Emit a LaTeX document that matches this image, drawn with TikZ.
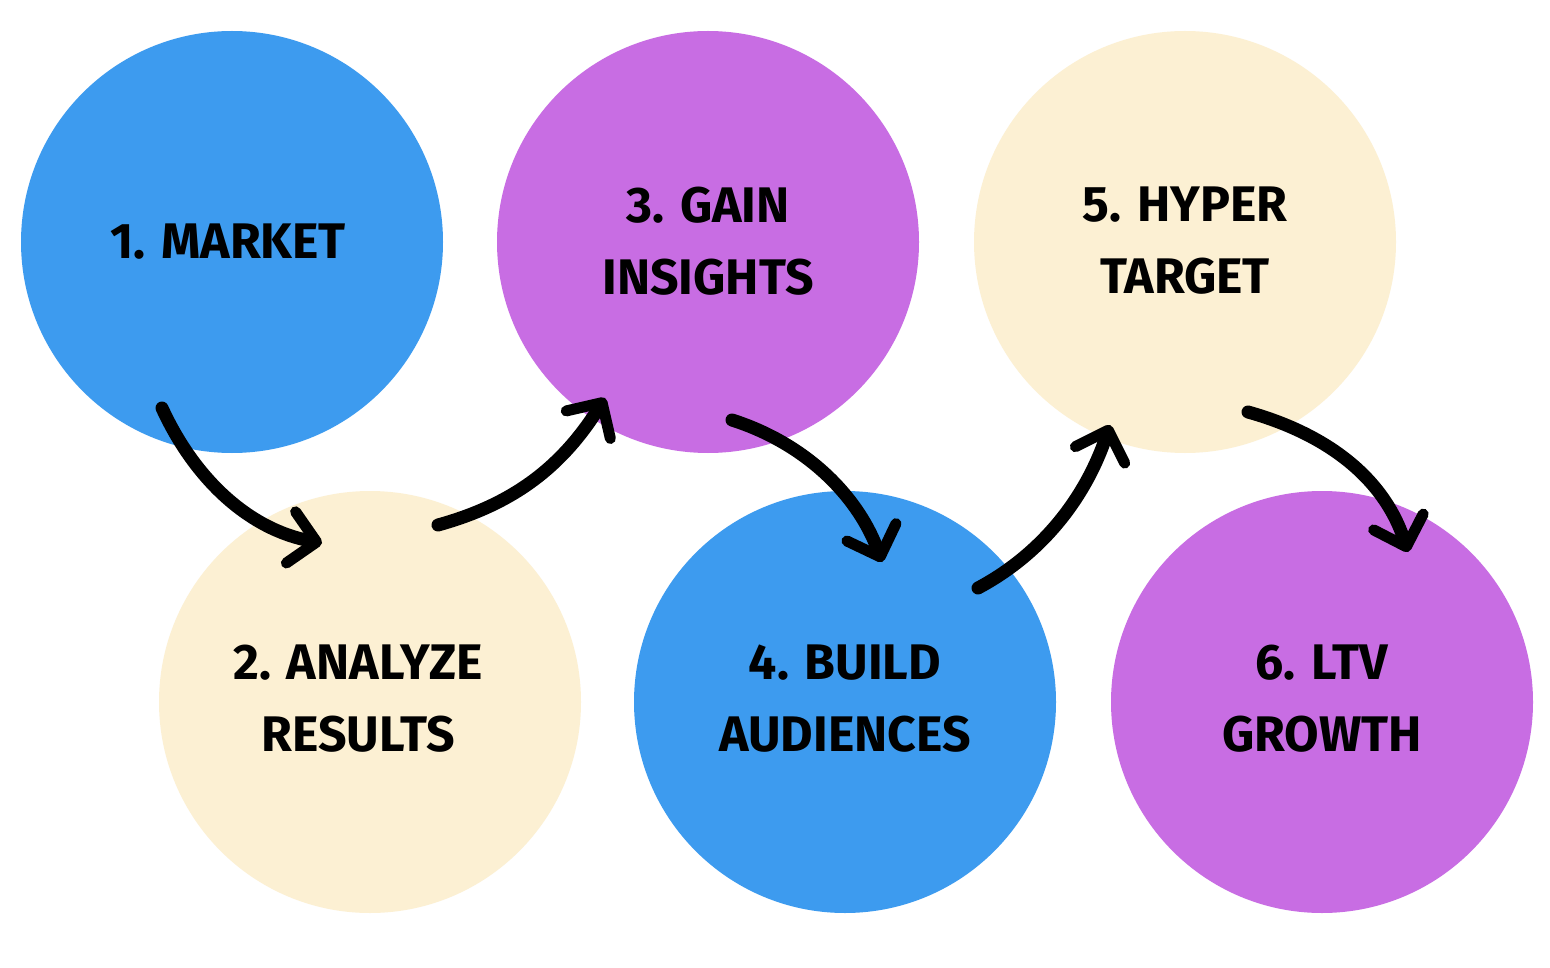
\documentclass[tikz,border=0pt]{standalone}
\usepackage{fontspec}
\setmainfont{Fira Sans}
\usetikzlibrary{arrows.meta}
\definecolor{cblue}{HTML}{3D9BEF}
\definecolor{ccream}{HTML}{FCF0D3}
\definecolor{cpurple}{HTML}{C86DE3}
\begin{document}
\begin{tikzpicture}[x=1pt,y=-1pt,
  blob/.style={circle,minimum size=422pt,inner sep=0pt},
  lbl/.style={align=center,font=\fontsize{50}{72}\selectfont\bfseries},
  brush/.style={line width=13pt,line cap=round,
    -{Straight Barb[length=26pt,width=52pt,line width=11pt,round]}}]
\useasboundingbox (0,0) rectangle (1550,968);
\fill[white] (0,0) rectangle (1550,968);
\node[blob,fill=cblue] (s1) at (232,242) {};
\node[blob,fill=ccream] (s2) at (370,702) {};
\node[blob,fill=cpurple] (s3) at (708,242) {};
\node[blob,fill=cblue] (s4) at (845,702) {};
\node[blob,fill=ccream] (s5) at (1185,242) {};
\node[blob,fill=cpurple] (s6) at (1322,702) {};
\node[lbl] (t1) at (228,242) {1. MARKET};
\node[lbl] (t2) at (358,699) {2. ANALYZE\\RESULTS};
\node[lbl] (t3) at (708,241) {3. GAIN\\INSIGHTS};
\node[lbl] (t4) at (845,699) {4. BUILD\\AUDIENCES};
\node[lbl] (t5) at (1185,241) {5. HYPER\\TARGET};
\node[lbl] (t6) at (1322,699) {6. LTV\\GROWTH};
\coordinate (a1s) at (162,408); \coordinate (a1e) at (322,543);
\coordinate (a2s) at (438,525); \coordinate (a2e) at (605,398);
\coordinate (a3s) at (732,420); \coordinate (a3e) at (882,562);
\coordinate (a4s) at (978,588); \coordinate (a4e) at (1110,425);
\coordinate (a5s) at (1248,412); \coordinate (a5e) at (1408,552);
\draw[brush] (a1s) .. controls (195,480) and (250,530) .. (a1e);
\draw[brush] (a2s) .. controls (510,505) and (560,470) .. (a2e);
\draw[brush] (a3s) .. controls (810,445) and (860,500) .. (a3e);
\draw[brush] (a4s) .. controls (1040,555) and (1085,500) .. (a4e);
\draw[brush] (a5s) .. controls (1330,435) and (1385,480) .. (a5e);
\end{tikzpicture}
\end{document}
